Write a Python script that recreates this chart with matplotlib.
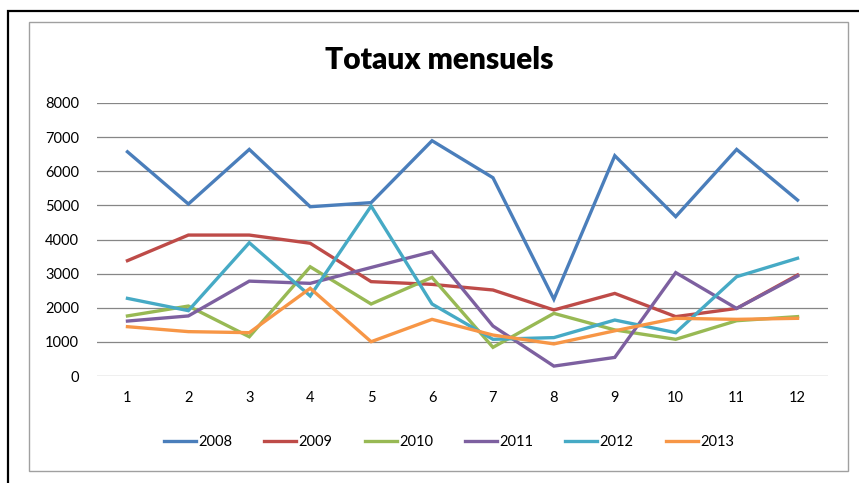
import matplotlib
matplotlib.use("Agg")
import matplotlib.pyplot as plt
from matplotlib.patches import Rectangle

plt.rcParams['font.family'] = ['Lato', 'DejaVu Sans']

months = list(range(1, 13))
years = ["2008", "2009", "2010", "2011", "2012", "2013"]
v2008 = [6570, 5040, 6640, 4960, 5080, 6895, 5810, 2250, 6455, 4670, 6640, 5155]
v2009 = [3380, 4130, 4130, 3890, 2765, 2685, 2520, 1935, 2420, 1740, 1980, 2960]
v2010 = [1760, 2050, 1150, 3200, 2110, 2890, 840, 1835, 1350, 1075, 1620, 1740]
v2011 = [1610, 1760, 2780, 2715, 3180, 3640, 1465, 290, 545, 3030, 1980, 2930]
v2012 = [2275, 1915, 3905, 2345, 4980, 2110, 1075, 1125, 1640, 1270, 2910, 3450]
v2013 = [1445, 1300, 1270, 2570, 1005, 1660, 1200, 940, 1325, 1690, 1660, 1690]
series = [v2008, v2009, v2010, v2011, v2012, v2013]
colors = ["#4A7EBB", "#BE4B48", "#98B954", "#7D60A0", "#46AAC5", "#F79646"]
yticks = [0, 1000, 2000, 3000, 4000, 5000, 6000, 7000, 8000]

W, H = 859, 483
fig = plt.figure(figsize=(W / 100, H / 100), dpi=100)

# outer black frame
fig.patches.append(Rectangle((8 / W, -0.01), 1.1, 1 - 11 / H + 0.01, transform=fig.transFigure,
                             fill=False, edgecolor="black", linewidth=1.6))
# inner grey chart border
fig.patches.append(Rectangle((29 / W, 1 - 471 / H), (848 - 29) / W, (471 - 22) / H,
                             transform=fig.transFigure, fill=False, edgecolor="#A0A0A0", linewidth=1.0))

ax = fig.add_axes([97 / W, 1 - 376 / H, (828 - 97) / W, (376 - 103) / H])
for vals, c, lab in zip(series, colors, years):
    ax.plot(months, vals, color=c, linewidth=2.4, label=lab, solid_joinstyle="miter")

ax.set_xlim(0.5, 12.5)
ax.set_ylim(0, 8000)
ax.set_yticks(yticks)
ax.set_xticks(months)
ax.set_xticklabels([str(m) for m in months])
ax.yaxis.grid(True, color="#868686", linewidth=0.9)
ax.set_axisbelow(True)
for s in ax.spines.values():
    s.set_visible(False)
ax.tick_params(axis="both", length=0, labelsize=10.5, colors="black")
ax.tick_params(axis="y", pad=13)
ax.tick_params(axis="x", pad=11)

fig.text(439 / W, 1 - 60 / H, "Totaux mensuels", ha="center", va="center",
         fontsize=21.5, fontweight="heavy")

handles, labels = ax.get_legend_handles_labels()
fig.legend(handles, labels, loc="center", bbox_to_anchor=(449 / W, 1 - 442 / H), ncol=6,
           frameon=False, fontsize=10.5, handlelength=2.2, handletextpad=0.15, columnspacing=2.2)

fig.savefig("out.png", dpi=100)
